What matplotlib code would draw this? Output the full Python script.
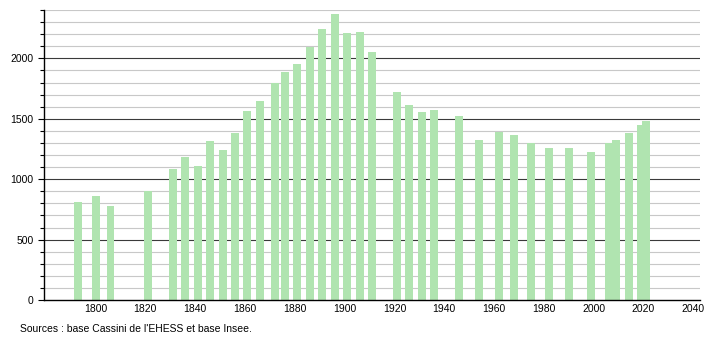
import numpy as np
import matplotlib
matplotlib.use("Agg")
import matplotlib.pyplot as plt
from matplotlib.ticker import MultipleLocator

plt.rcParams['font.family'] = ['Liberation Sans', 'DejaVu Sans']

# census years and population
years = [1793, 1800, 1806, 1821, 1831, 1836, 1841, 1846, 1851, 1856,
         1861, 1866, 1872, 1876, 1881, 1886, 1891, 1896, 1901, 1906,
         1911, 1921, 1926, 1931, 1936, 1946, 1954, 1962, 1968, 1975,
         1982, 1990, 1999, 2006, 2009, 2014, 2019, 2021]
population = [809, 864, 781, 906, 1081, 1180, 1108, 1313, 1238, 1385,
              1565, 1646, 1795, 1887, 1953, 2097, 2244, 2369, 2211, 2219,
              2056, 1718, 1610, 1554, 1571, 1521, 1322, 1388, 1363, 1302,
              1255, 1255, 1222, 1302, 1322, 1380, 1446, 1480]
x_ticks = [1800, 1820, 1840, 1860, 1880, 1900, 1920, 1940, 1960, 1980, 2000, 2020, 2040]
source = "Sources : base Cassini de l'EHESS et base Insee."

fig = plt.figure(figsize=(7.1, 3.4), dpi=100)
ax = fig.add_axes([44 / 710, 40 / 340, 656 / 710, 290 / 340])

# grid: light every 100, dark every 500
for v in range(100, 2401, 100):
    if v % 500 == 0:
        ax.axhline(v, color='#3a3a3a', lw=0.8, zorder=1)
    else:
        ax.axhline(v, color='#c8c8c8', lw=0.8, zorder=1)

ax.bar(years, population, width=3.2, color='#b0e4b0', zorder=2)

ax.set_xlim(1779.3, 2042.7)
ax.set_ylim(0, 2400)
ax.set_xticks(x_ticks)
ax.yaxis.set_major_locator(MultipleLocator(500))
ax.yaxis.set_minor_locator(MultipleLocator(100))
ax.tick_params(axis='x', length=0, labelsize=7.5, pad=3)
ax.tick_params(axis='y', which='major', length=4, width=0.8, labelsize=7.5)
ax.tick_params(axis='y', which='minor', length=3, width=0.8)

for side in ['top', 'right']:
    ax.spines[side].set_visible(False)
ax.spines['left'].set_linewidth(1)
ax.spines['bottom'].set_linewidth(1)

fig.text(20 / 710, 1 - 329 / 340, source, fontsize=7.5, va='center', ha='left')

fig.savefig('out.png', dpi=100)
